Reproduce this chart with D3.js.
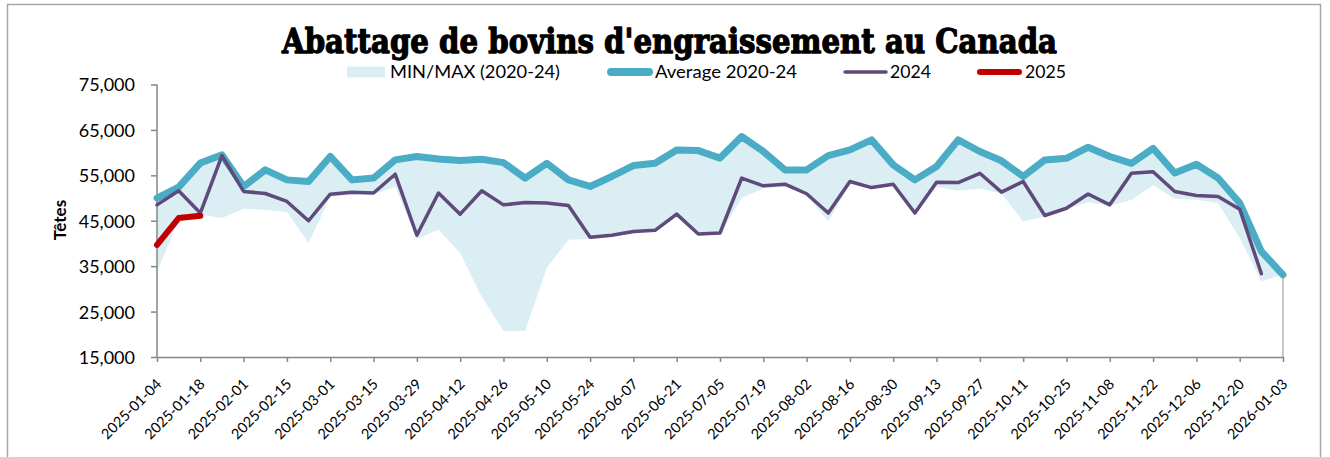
<!DOCTYPE html>
<html><head><meta charset="utf-8">
<script src="https://cdn.jsdelivr.net/npm/d3@7"></script>
<style>body{margin:0;background:#fff;} svg{display:block}</style>
</head><body>
<svg id="c" width="1330" height="457"></svg>
<script>
const weeks = ["2025-01-04","2025-01-11","2025-01-18","2025-01-25","2025-02-01","2025-02-08","2025-02-15","2025-02-22",
"2025-03-01","2025-03-08","2025-03-15","2025-03-22","2025-03-29","2025-04-05","2025-04-12","2025-04-19","2025-04-26",
"2025-05-03","2025-05-10","2025-05-17","2025-05-24","2025-05-31","2025-06-07","2025-06-14","2025-06-21","2025-06-28",
"2025-07-05","2025-07-12","2025-07-19","2025-07-26","2025-08-02","2025-08-09","2025-08-16","2025-08-23","2025-08-30",
"2025-09-06","2025-09-13","2025-09-20","2025-09-27","2025-10-04","2025-10-11","2025-10-18","2025-10-25","2025-11-01",
"2025-11-08","2025-11-15","2025-11-22","2025-11-29","2025-12-06","2025-12-13","2025-12-20","2025-12-27","2026-01-03"];
const tickLabels = ["2025-01-04","2025-01-18","2025-02-01","2025-02-15","2025-03-01","2025-03-15","2025-03-29","2025-04-12",
"2025-04-26","2025-05-10","2025-05-24","2025-06-07","2025-06-21","2025-07-05","2025-07-19","2025-08-02","2025-08-16",
"2025-08-30","2025-09-13","2025-09-27","2025-10-11","2025-10-25","2025-11-08","2025-11-22","2025-12-06","2025-12-20","2026-01-03"];
const avg2020_24 = [50000,52400,57700,59500,52550,56200,54000,53650,59150,54000,54400,58400,59150,58600,58250,58550,57800,
54400,57650,54000,52550,54750,57150,57650,60600,60450,58800,63550,60250,56200,56200,59350,60600,62800,57300,54000,56950,
62800,60250,58200,54750,58400,58750,61200,59150,57650,60950,55500,57450,54400,48900,38250,33100];
const max2020_24 = [50000,52400,57700,59500,52550,56200,54000,53650,59150,54000,54400,58400,59150,58600,58250,58550,57800,
54400,57650,54000,52550,54750,57150,57650,60600,60450,58800,63550,60250,56200,56200,59350,60600,62800,57300,54000,56950,
62800,60250,58200,54750,58400,58750,61200,59150,57650,60950,55500,57450,54400,48900,38250,33100];
const min2020_24 = [33800,45000,46300,45600,47650,47400,46900,40100,50300,50700,50850,52500,41000,43000,37900,28200,20700,
20700,34600,40800,41000,41500,42300,42600,46000,41800,42000,50000,52150,52500,50700,44850,53150,52050,52800,46300,52500,
51600,52050,51000,44850,45950,47600,49100,48300,49600,52800,49850,49600,48900,41200,31700,33100];
const y2024 = [48500,51600,46700,59350,51450,51000,49250,45000,50850,51300,51100,55250,41800,51100,46450,51600,48500,49000,
48900,48350,41350,41800,42650,42900,46450,42100,42300,54400,52700,53050,50950,46700,53650,52300,53050,46700,53500,53400,
55450,51300,53650,46150,47750,50900,48500,55450,55800,51450,50550,50350,47550,33350,null];
const y2025 = [39700,45600,46100];
const yTicks = [15000,25000,35000,45000,55000,65000,75000];
const legendItems = ["MIN/MAX (2020-24)","Average 2020-24","2024","2025"];
const titleText = "Abattage de bovins d'engraissement au Canada";
const yTitle = "Têtes";

const svg = d3.select("#c");
const C = {band:"#daeef3", avg:"#4bacc6", y24:"#604a7b", y25:"#c00000", axis:"#868686"};

// outer border
svg.append("rect").attr("x",7.5).attr("y",4.5).attr("width",1313).attr("height",470)
  .attr("fill","none").attr("stroke","#a6a6a6").attr("stroke-width",1.5);

const x = d3.scalePoint().domain(weeks).range([157,1283]);
const y = d3.scaleLinear().domain([15000,75000]).range([357,84.5]);

// band
const band = d3.area().x((d,i)=>x(weeks[i])).y0((d,i)=>y(min2020_24[i])).y1((d,i)=>y(max2020_24[i]));
svg.append("path").datum(weeks).attr("d",band).attr("fill",C.band);

// right edge line
svg.append("line").attr("x1",x(weeks[52])).attr("x2",x(weeks[52]))
  .attr("y1",y(min2020_24[52])).attr("y2",y(15000)).attr("stroke","#c8c8c8").attr("stroke-width",2);

// axes
const yAxis = d3.axisLeft(y).tickValues(yTicks).tickFormat(d3.format(",")).tickSize(6).tickPadding(16);
const gy = svg.append("g").attr("transform","translate(157,0)").call(yAxis);
gy.select(".domain").attr("stroke",C.axis).attr("stroke-width",1.5).attr("d","M0,"+y(75000)+"V"+y(15000));
gy.selectAll(".tick line").attr("stroke",C.axis).attr("stroke-width",1.5);
gy.selectAll(".tick text").attr("font-family","Lato, sans-serif").attr("font-size","18px").attr("fill","#000").attr("dy","0.36em");

const evenWeeks = weeks.filter((w,i)=>i%2===0);
const xAxis = d3.axisBottom(x).tickValues(evenWeeks).tickFormat((d,i)=>tickLabels[i]).tickSize(5).tickSizeOuter(0);
const gx = svg.append("g").attr("transform","translate(0,357)").call(xAxis);
gx.select(".domain").attr("stroke",C.axis).attr("stroke-width",1.5);
gx.selectAll(".tick line").attr("stroke",C.axis).attr("stroke-width",1.5);
gx.selectAll(".tick text").attr("font-family","Lato, sans-serif").attr("font-size","14.5px").attr("fill","#000")
  .attr("text-anchor","end").attr("x",0).attr("y",0).attr("dy",0)
  .attr("transform","translate(5,28) rotate(-45)");

// lines
const lineGen = arr => d3.line().defined(d=>d!=null).x((d,i)=>x(weeks[i])).y(d=>y(d))(arr);
svg.append("path").attr("d",lineGen(avg2020_24)).attr("fill","none").attr("stroke",C.avg)
  .attr("stroke-width",7).attr("stroke-linejoin","round").attr("stroke-linecap","round");
svg.append("path").attr("d",lineGen(y2024)).attr("fill","none").attr("stroke",C.y24)
  .attr("stroke-width",3.5).attr("stroke-linejoin","round").attr("stroke-linecap","round");
svg.append("path").attr("d",lineGen(y2025)).attr("fill","none").attr("stroke",C.y25)
  .attr("stroke-width",6).attr("stroke-linejoin","round").attr("stroke-linecap","round");

// title
svg.append("text").attr("x",669.5).attr("y",53).attr("text-anchor","middle")
  .attr("font-family","'DejaVu Serif', serif").attr("font-weight","900").attr("font-size","34px")
  .attr("stroke","#000").attr("stroke-width",1.3).attr("stroke-linejoin","round")
  .attr("textLength",775).attr("lengthAdjust","spacingAndGlyphs").attr("fill","#000").text(titleText);

// y title
svg.append("text").attr("transform","translate(66,220) rotate(-90)").attr("text-anchor","middle")
  .attr("font-family","Lato, sans-serif").attr("font-weight","bold").attr("font-size","17px").attr("fill","#000").text(yTitle);

// legend
const lg = svg.append("g").attr("font-family","Lato, sans-serif").attr("font-size","17px").attr("fill","#000");
lg.append("rect").attr("x",347).attr("y",66.5).attr("width",38).attr("height",11).attr("fill",C.band);
lg.append("text").attr("x",390).attr("y",78).attr("textLength",170).attr("lengthAdjust","spacingAndGlyphs").text(legendItems[0]);
lg.append("line").attr("x1",611).attr("x2",649).attr("y1",72).attr("y2",72).attr("stroke",C.avg).attr("stroke-width",8).attr("stroke-linecap","round");
lg.append("text").attr("x",655).attr("y",78).attr("textLength",142).attr("lengthAdjust","spacingAndGlyphs").text(legendItems[1]);
lg.append("line").attr("x1",845).attr("x2",886).attr("y1",72).attr("y2",72).attr("stroke",C.y24).attr("stroke-width",3.5).attr("stroke-linecap","round");
lg.append("text").attr("x",890).attr("y",78).attr("textLength",41).attr("lengthAdjust","spacingAndGlyphs").text(legendItems[2]);
lg.append("line").attr("x1",980).attr("x2",1019).attr("y1",72).attr("y2",72).attr("stroke",C.y25).attr("stroke-width",6).attr("stroke-linecap","round");
lg.append("text").attr("x",1025).attr("y",78).attr("textLength",41).attr("lengthAdjust","spacingAndGlyphs").text(legendItems[3]);
</script>
</body></html>
